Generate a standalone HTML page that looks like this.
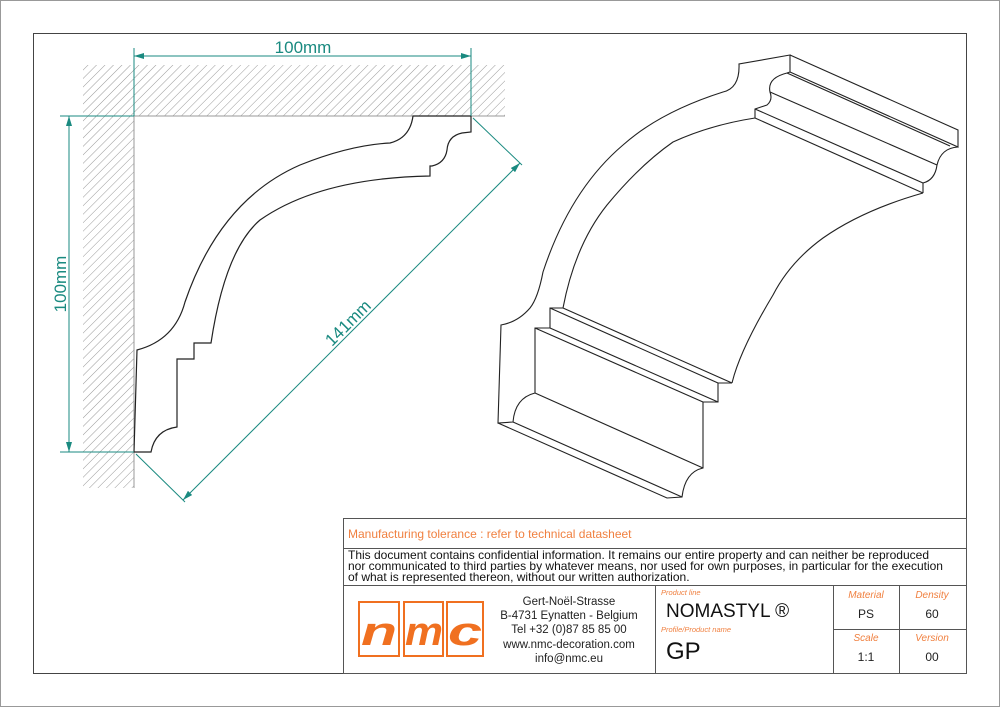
<!DOCTYPE html>
<html><head><meta charset="utf-8"><style>
body{margin:0;background:#fff}
svg text{font-family:"Liberation Sans",sans-serif}
</style></head><body>
<svg width="1000" height="707" viewBox="0 0 1000 707" xmlns="http://www.w3.org/2000/svg">
<defs>
<pattern id="h" patternUnits="userSpaceOnUse" width="6" height="6" patternTransform="rotate(45)">
<line x1="0" y1="0" x2="0" y2="6" stroke="#999" stroke-width="1"/>
</pattern>
<marker id="a" markerWidth="10" markerHeight="6" refX="10" refY="3" orient="auto-start-reverse" markerUnits="userSpaceOnUse"><path d="M0,0 L10,3 L0,6z" fill="#1a8a80"/></marker>
</defs>
<rect x="0.5" y="0.5" width="999" height="706" fill="none" stroke="#999"/>
<rect x="33.5" y="33.5" width="933" height="640" fill="none" stroke="#444"/>
<rect x="83" y="65" width="422" height="51" fill="url(#h)"/>
<rect x="83" y="116" width="51" height="372" fill="url(#h)"/>
<line x1="134" y1="116" x2="505" y2="116" stroke="#999"/>
<line x1="134" y1="116" x2="134" y2="488" stroke="#999"/>
<path d="M413,116 L471,116 L471,132 L462,133 Q448,136 447,150 Q445,163 432,166 L430,166 L430,176 Q320,178 260,220 Q225,250 211,343 L194,343 L194,359 L177,359 L177,427 Q155,430 151,452 L134,452 L137,350 Q175,340 185,302 Q220,200 300,165 Q350,145 390,143 Q410,138 413,116Z" fill="#fff" stroke="#222" stroke-width="1.2"/>
<g stroke="#1a8a80" stroke-width="1" fill="none">
<line x1="134" y1="48" x2="134" y2="116"/><line x1="471" y1="48" x2="471" y2="116"/>
<line x1="134" y1="56" x2="471" y2="56" marker-start="url(#a)" marker-end="url(#a)"/>
<line x1="60" y1="116" x2="134" y2="116"/><line x1="60" y1="452" x2="134" y2="452"/>
<line x1="69" y1="116" x2="69" y2="452" marker-start="url(#a)" marker-end="url(#a)"/>
<line x1="136" y1="454" x2="185" y2="502"/><line x1="473" y1="118" x2="522" y2="165"/>
<line x1="183" y1="500" x2="520" y2="163" marker-start="url(#a)" marker-end="url(#a)"/>
</g>
<g fill="#1a8a80" font-size="17">
<text x="303" y="53" text-anchor="middle">100mm</text>
<text transform="translate(66,284) rotate(-90)" text-anchor="middle">100mm</text>
<text transform="translate(352,327) rotate(-45)" text-anchor="middle">141mm</text>
</g>
<g fill="none" stroke="#222" stroke-width="1.1">
<path d="M790,55 L739,64 Q740,88 723,92 Q660,112 623,145 Q570,190 543,272 Q538,298 530,308 Q518,322 501,325 L498,423 L513,422 Q515,398 535,393 L535,328 L550,328 L550,308 L563,308 Q575,245 607,205 Q640,165 673,142 Q710,125 755,118 L755,109 L767,105 Q773,100 770,92 Q767,78 787,73 L790,72 Z"/>
<path d="M790,55 L958,130 L958,147 L790,72"/>
<line x1="787" y1="73" x2="950" y2="146"/>
<line x1="770" y1="92" x2="937" y2="165"/>
<path d="M958,147 Q941,148 937,165 Q935,180 923,183 L923,193"/>
<line x1="755" y1="109" x2="923" y2="183"/>
<line x1="755" y1="118" x2="923" y2="193"/>
<path d="M923,193 Q863,210 823,238 Q790,262 773,295 Q740,350 732,383"/>
<line x1="563" y1="308" x2="732" y2="383"/>
<line x1="550" y1="308" x2="718" y2="383"/>
<line x1="550" y1="328" x2="718" y2="402"/>
<line x1="535" y1="328" x2="703" y2="402"/>
<path d="M732,383 L718,383 L718,402 L703,402 L703,468 Q685,472 682,497 L667,498 L498,423"/>
<line x1="513" y1="422" x2="682" y2="497"/>
<line x1="535" y1="393" x2="703" y2="468"/>
</g>
<g stroke="#555" stroke-width="1" fill="none">
<rect x="343.5" y="518.5" width="623" height="155"/>
<line x1="343" y1="548.5" x2="967" y2="548.5"/>
<line x1="343" y1="585.5" x2="967" y2="585.5"/>
<line x1="655.5" y1="585" x2="655.5" y2="674"/>
<line x1="833.5" y1="585" x2="833.5" y2="674"/>
<line x1="899.5" y1="585" x2="899.5" y2="674"/>
<line x1="833" y1="629.5" x2="967" y2="629.5"/>
</g>
<text x="348" y="538" font-size="12" fill="#f08040">Manufacturing tolerance : refer to technical datasheet</text>
<g font-size="12" fill="#111">
<text x="348" y="559">This document contains confidential information. It remains our entire property and can neither be reproduced</text>
<text x="348" y="570">nor communicated to third parties by whatever means, nor used for own purposes, in particular for the execution</text>
<text x="348" y="581">of what is represented thereon, without our written authorization.</text>
</g>
<g fill="#fff" stroke="#f07020" stroke-width="2">
<rect x="359" y="602" width="40" height="54"/><rect x="404" y="602" width="39" height="54"/><rect x="447" y="602" width="36" height="54"/>
</g>
<g font-size="40" font-weight="bold" font-style="italic" fill="#f07020" text-anchor="middle">
<text x="379" y="645" textLength="36" lengthAdjust="spacingAndGlyphs">n</text><text x="424" y="645" textLength="38" lengthAdjust="spacingAndGlyphs">m</text><text x="465" y="645" textLength="34" lengthAdjust="spacingAndGlyphs">c</text>
</g>
<g font-size="11.5" fill="#222" text-anchor="middle">
<text x="569" y="605">Gert-Noël-Strasse</text>
<text x="569" y="619">B-4731 Eynatten - Belgium</text>
<text x="569" y="633">Tel +32 (0)87 85 85 00</text>
<text x="569" y="648">www.nmc-decoration.com</text>
<text x="569" y="662">info@nmc.eu</text>
</g>
<g font-size="7.5" font-style="italic" fill="#f08040">
<text x="661" y="595">Product line</text><text x="661" y="632">Profile/Product name</text>
</g>
<text x="666" y="617" font-size="19" fill="#111">NOMASTYL ®</text>
<text x="666" y="659" font-size="24" fill="#111">GP</text>
<g font-size="10" font-style="italic" fill="#f08040" text-anchor="middle">
<text x="866" y="598">Material</text><text x="932" y="598">Density</text>
<text x="866" y="641">Scale</text><text x="932" y="641">Version</text>
</g>
<g font-size="12" fill="#222" text-anchor="middle">
<text x="866" y="618">PS</text><text x="932" y="618">60</text>
<text x="866" y="661">1:1</text><text x="932" y="661">00</text>
</g>
</svg>
</body></html>
